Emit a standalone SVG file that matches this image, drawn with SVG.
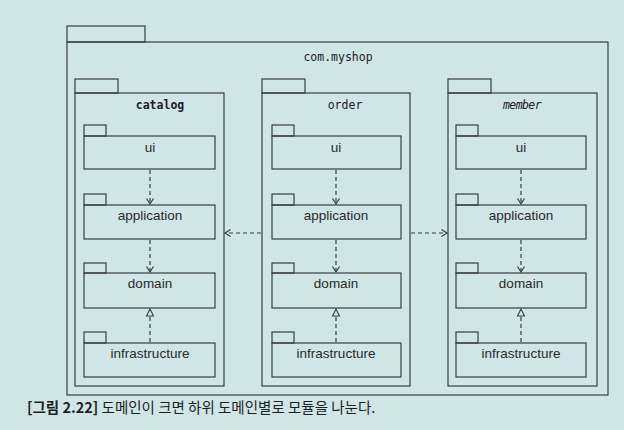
<svg xmlns="http://www.w3.org/2000/svg" width="624" height="430" viewBox="0 0 624 430">
<style>
.bg{fill:#cfe5e6}
.box{fill:none;stroke:#3a3d3e;stroke-width:1.2}
.pkg{font-family:"DejaVu Sans Mono","Liberation Mono",monospace;font-size:11.5px;fill:#222;text-anchor:middle}
.lbl{font-family:"Liberation Sans",Arial,sans-serif;font-size:13.5px;fill:#2a2a2a;text-anchor:middle}
.dep{fill:none;stroke:#3a3d3e;stroke-width:1.2;stroke-dasharray:4,3}
.cap{font-family:"Noto Sans CJK KR","Noto Sans",sans-serif;font-size:14.5px;fill:#1e1e1e}
</style>
<defs>
<marker id="open" markerWidth="10" markerHeight="10" viewBox="-8 -5 10 10" refX="0" refY="0" orient="auto" markerUnits="userSpaceOnUse">
<path d="M-5.5,-3.5 L0,0 L-5.5,3.5" fill="none" stroke="#3a3d3e" stroke-width="1.2"/>
</marker>
<marker id="tri" markerWidth="12" markerHeight="12" viewBox="-9 -6 12 12" refX="0" refY="0" orient="auto" markerUnits="userSpaceOnUse">
<path d="M-7,-3.5 L0,0 L-7,3.5 Z" fill="#cfe5e6" stroke="#3a3d3e" stroke-width="1.1"/>
</marker>
</defs>
<rect class="bg" x="0" y="0" width="624" height="430"/>

<g id="com.myshop">
<rect class="box" x="67" y="26" width="78" height="16"/>
<rect class="box" x="67" y="42" width="541" height="353"/>
<text class="pkg" x="338" y="61">com.myshop</text>
</g>

<g id="catalog">
<rect class="box" x="75" y="79" width="43" height="14"/>
<rect class="box" x="75" y="93" width="149" height="293"/>
<text class="pkg" x="160" y="109" font-weight="bold">catalog</text>
</g>
<g id="catalog-ui">
<rect class="box" x="84" y="125" width="22" height="11"/>
<rect class="box" x="84" y="136" width="131" height="33"/>
<text class="lbl" x="150" y="152">ui</text>
</g>
<g id="catalog-application">
<rect class="box" x="84" y="194" width="22" height="11"/>
<rect class="box" x="84" y="205" width="131" height="34"/>
<text class="lbl" x="150" y="220">application</text>
</g>
<g id="catalog-domain">
<rect class="box" x="84" y="263" width="22" height="10"/>
<rect class="box" x="84" y="273" width="131" height="35"/>
<text class="lbl" x="150" y="288">domain</text>
</g>
<g id="catalog-infrastructure">
<rect class="box" x="84" y="332" width="22" height="11"/>
<rect class="box" x="84" y="343" width="131" height="34"/>
<text class="lbl" x="150" y="358">infrastructure</text>
</g>

<g id="order">
<rect class="box" x="262" y="79" width="43" height="14"/>
<rect class="box" x="262" y="93" width="148" height="293"/>
<text class="pkg" x="345" y="109">order</text>
</g>
<g id="order-ui">
<rect class="box" x="272" y="125" width="22" height="11"/>
<rect class="box" x="272" y="136" width="129" height="33"/>
<text class="lbl" x="336" y="152">ui</text>
</g>
<g id="order-application">
<rect class="box" x="272" y="194" width="22" height="11"/>
<rect class="box" x="272" y="205" width="129" height="34"/>
<text class="lbl" x="336" y="220">application</text>
</g>
<g id="order-domain">
<rect class="box" x="272" y="263" width="22" height="10"/>
<rect class="box" x="272" y="273" width="129" height="35"/>
<text class="lbl" x="336" y="288">domain</text>
</g>
<g id="order-infrastructure">
<rect class="box" x="272" y="332" width="22" height="11"/>
<rect class="box" x="272" y="343" width="129" height="34"/>
<text class="lbl" x="336" y="358">infrastructure</text>
</g>

<g id="member">
<rect class="box" x="448" y="79" width="43" height="14"/>
<rect class="box" x="448" y="93" width="149" height="293"/>
<text class="pkg" x="522" y="109" font-style="italic" letter-spacing="-0.6">member</text>
</g>
<g id="member-ui">
<rect class="box" x="456" y="125" width="22" height="11"/>
<rect class="box" x="456" y="136" width="130" height="33"/>
<text class="lbl" x="521" y="152">ui</text>
</g>
<g id="member-application">
<rect class="box" x="456" y="194" width="22" height="11"/>
<rect class="box" x="456" y="205" width="130" height="34"/>
<text class="lbl" x="521" y="220">application</text>
</g>
<g id="member-domain">
<rect class="box" x="456" y="263" width="22" height="10"/>
<rect class="box" x="456" y="273" width="130" height="35"/>
<text class="lbl" x="521" y="288">domain</text>
</g>
<g id="member-infrastructure">
<rect class="box" x="456" y="332" width="22" height="11"/>
<rect class="box" x="456" y="343" width="130" height="34"/>
<text class="lbl" x="521" y="358">infrastructure</text>
</g>

<g id="connectors">
<path class="dep" d="M150,170 L150,204" marker-end="url(#open)"/>
<path class="dep" d="M150,240 L150,272" marker-end="url(#open)"/>
<path class="dep" d="M150,342 L150,309" marker-end="url(#tri)"/>
<path class="dep" d="M336,170 L336,204" marker-end="url(#open)"/>
<path class="dep" d="M336,240 L336,272" marker-end="url(#open)"/>
<path class="dep" d="M336,342 L336,309" marker-end="url(#tri)"/>
<path class="dep" d="M521,170 L521,204" marker-end="url(#open)"/>
<path class="dep" d="M521,240 L521,272" marker-end="url(#open)"/>
<path class="dep" d="M521,342 L521,309" marker-end="url(#tri)"/>
<path class="dep" d="M261,233 L225,233" marker-end="url(#open)"/>
<path class="dep" d="M411,233 L447,233" marker-end="url(#open)"/>
</g>

<text class="cap" x="27" y="413"><tspan font-weight="bold">[그림 2.22]</tspan> 도메인이 크면 하위 도메인별로 모듈을 나눈다.</text>
</svg>
